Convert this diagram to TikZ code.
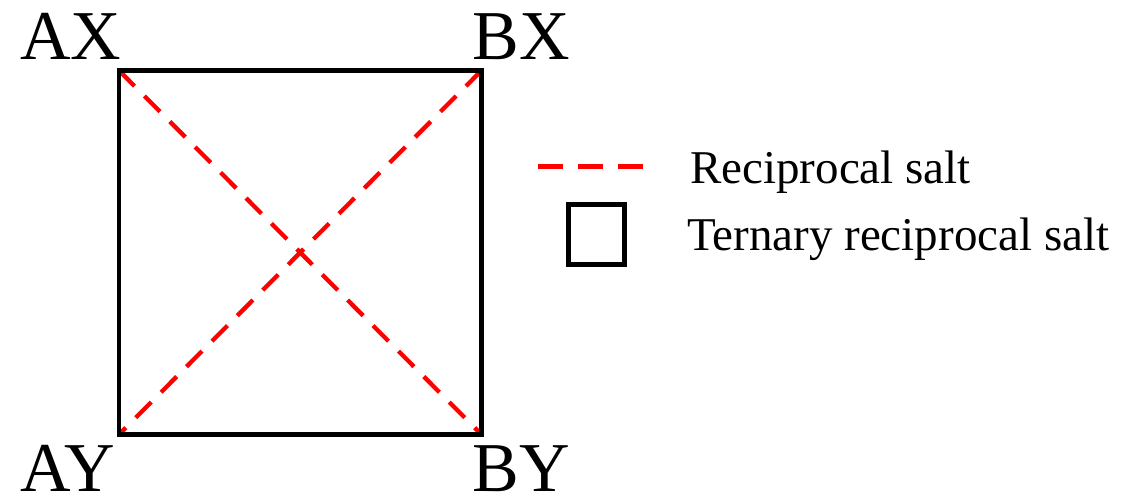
\documentclass[tikz,border=0pt]{standalone}
\usepackage{fontspec}
\setmainfont{Liberation Serif}
\usepackage{tikz}
\usetikzlibrary{positioning}
\definecolor{EdgeBlack}{HTML}{000000}
\definecolor{SaltRed}{HTML}{FF0000}
\tikzset{
  corner/.style={inner sep=0pt,anchor=base,text depth=0pt,font=\fontsize{70}{74}\selectfont},
  legtext/.style={inner sep=0pt,anchor=base west,font=\fontsize{47}{50}\selectfont},
  ternedge/.style={draw=EdgeBlack,line width=4.5pt,line cap=rect},
  recip/.style={draw=SaltRed,line width=4.3pt,dash pattern=on 22pt off 14pt},
  legsq/.style={draw=EdgeBlack,line width=5pt,minimum width=56pt,minimum height=60pt,inner sep=0pt}
}
\begin{document}
\begin{tikzpicture}[x=1pt,y=-1pt]
  \useasboundingbox (0,0) rectangle (1125,500);
  % corners of the square
  \coordinate (ax) at (119,70.5);
  \coordinate (bx) at (481.5,70.5);
  \coordinate (ay) at (119,434.5);
  \coordinate (by) at (481.5,434.5);
  \node[corner] (axl) at (71,60) {AX};
  \node[corner] (bxl) at (521.5,60) {BX};
  \node[corner] (ayl) at (67.5,491) {AY};
  \node[corner] (byl) at (521.5,491) {BY};
  \draw[recip](ax)--(by);
  \draw[recip](bx)--(ay);
  \draw[ternedge](ax)--(bx)--(by)--(ay)--cycle;
  % legend
  \coordinate (l1) at (538,167);
  \coordinate (l2) at (643,167);
  \draw[recip,line width=5pt,dash pattern=on 25pt off 15pt](l1)--(l2);
  \node[legtext] (t1) at (690,183) {Reciprocal salt};
  \node[legsq] (sq) at (596.5,234.5) {};
  \node[legtext] (t2) at (687,250) {Ternary reciprocal salt};
\end{tikzpicture}
\end{document}
